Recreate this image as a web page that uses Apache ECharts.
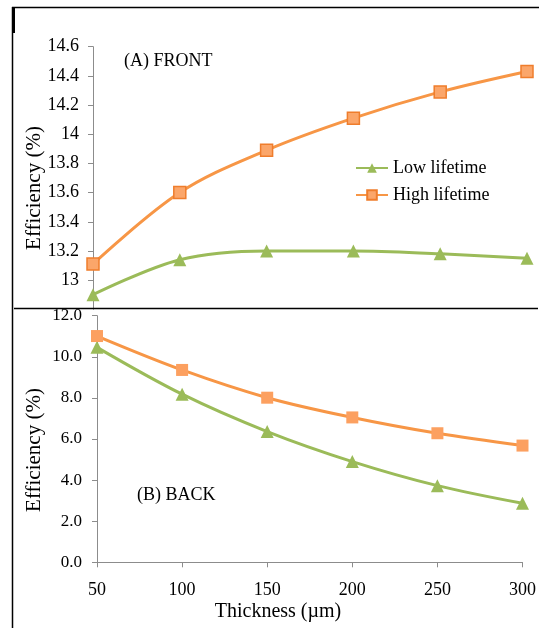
<!DOCTYPE html>
<html>
<head>
<meta charset="utf-8">
<script src="https://cdn.jsdelivr.net/npm/echarts@6/dist/echarts.min.js"></script>
<style>
  html, body { margin: 0; padding: 0; background: #fff; }
  #chart { width: 539px; height: 628px; }
</style>
</head>
<body>
<div id="chart"></div>
<script>
// thickness in um
const thickness = [50, 100, 150, 200, 250, 300]

// (A) front illumination
const frontLow = [12.90, 13.14, 13.20, 13.20, 13.18, 13.15]
const frontHigh = [13.11, 13.60, 13.89, 14.11, 14.29, 14.43]

// (B) back illumination
const backLow = [10.46, 8.18, 6.36, 4.90, 3.73, 2.87]
const backHigh = [11.01, 9.36, 8.01, 7.05, 6.28, 5.68]

const green = '#9bbb59'
const orange = '#f79646'
const axisGray = '#8c8c8c'
const font = 'Liberation Serif'

const pair = (ys) => thickness.map((x, i) => [x, ys[i]])

const chart = echarts.init(document.getElementById('chart'))

const xAxisBase = {
  type: 'value',
  min: 50,
  max: 300,
  interval: 50,
  axisLine: { lineStyle: { color: axisGray, width: 1 } },
  axisTick: { show: true, inside: false, length: 5, lineStyle: { color: axisGray } },
  splitLine: { show: false }
}

const yAxisBase = {
  type: 'value',
  axisLine: { show: true, lineStyle: { color: axisGray } },
  axisTick: { show: true, length: 5, lineStyle: { color: axisGray } },
  splitLine: { show: false }
}

// rotated axis title, placed by hand since it sits off-centre in the original
const yTitle = (y) => ({
  type: 'text', x: 34, y: y, rotation: Math.PI / 2,
  style: { text: 'Efficiency (%)', font: '21px "Liberation Serif"', fill: '#000', align: 'center', verticalAlign: 'middle' }
})

chart.setOption({
  animation: false,
  textStyle: { fontFamily: font },
  legend: {
    data: ['Low lifetime', 'High lifetime'],
    orient: 'vertical',
    left: 350,
    top: 154,
    itemWidth: 32,
    itemHeight: 12,
    itemGap: 9,
    textStyle: { fontFamily: font, fontSize: 18, color: '#000' }
  },
  grid: [
    { left: 93, right: 12, top: 46.7, bottom: 318.7 },
    { left: 97, right: 14, top: 315.7, bottom: 65.7 }
  ],
  xAxis: [
    Object.assign({}, xAxisBase, {
      gridIndex: 0,
      show: false
    }),
    Object.assign({}, xAxisBase, {
      gridIndex: 1,
      axisLabel: { fontFamily: font, fontSize: 18, color: '#000', margin: 19 }
    })
  ],
  yAxis: [
    Object.assign({}, yAxisBase, {
      gridIndex: 0,
      min: 12.8,
      max: 14.6,
      interval: 0.2,
      axisLabel: {
        fontFamily: font, fontSize: 18, color: '#000', margin: 14,
        showMinLabel: false,
        formatter: v => String(Math.round(v * 10) / 10)
      }
    }),
    Object.assign({}, yAxisBase, {
      gridIndex: 1,
      min: 0,
      max: 12,
      interval: 2,
      axisLabel: {
        fontFamily: font, fontSize: 17, color: '#000', margin: 15,
        formatter: v => v.toFixed(1)
      }
    })
  ],
  series: [
    {
      name: 'Low lifetime',
      type: 'line',
      xAxisIndex: 0, yAxisIndex: 0,
      data: pair(frontLow),
      smooth: 0.35,
      symbol: 'triangle',
      symbolSize: 13,
      lineStyle: { color: green, width: 3 },
      itemStyle: { color: green, borderColor: green, borderWidth: 0 }
    },
    {
      name: 'High lifetime',
      type: 'line',
      xAxisIndex: 0, yAxisIndex: 0,
      data: pair(frontHigh),
      smooth: 0.35,
      symbol: 'rect',
      symbolSize: 12,
      lineStyle: { color: orange, width: 3 },
      itemStyle: { color: '#fba66a', borderColor: '#ef7d2c', borderWidth: 1.5 }
    },
    {
      name: 'Low lifetime',
      type: 'line',
      xAxisIndex: 1, yAxisIndex: 1,
      data: pair(backLow),
      smooth: 0.35,
      symbol: 'triangle',
      symbolSize: 13,
      lineStyle: { color: green, width: 3 },
      itemStyle: { color: green }
    },
    {
      name: 'High lifetime',
      type: 'line',
      xAxisIndex: 1, yAxisIndex: 1,
      data: pair(backHigh),
      smooth: 0.35,
      symbol: 'rect',
      symbolSize: 12,
      lineStyle: { color: orange, width: 3 },
      itemStyle: { color: '#fca060' }
    }
  ],
  graphic: [
    { type: 'text', left: 124, top: 52, style: { text: '(A) FRONT', font: '18px "Liberation Serif"', fill: '#000' } },
    { type: 'text', left: 137, top: 486, style: { text: '(B) BACK', font: '18px "Liberation Serif"', fill: '#000' } },
    { type: 'text', x: 278, y: 612, style: { text: 'Thickness (\u00b5m)', font: '20px "Liberation Serif"', fill: '#000', align: 'center', verticalAlign: 'middle' } },
    yTitle(188),
    yTitle(450),
    // panel frame
    { type: 'line', shape: { x1: 12, y1: 7.5, x2: 539, y2: 7.5 }, style: { stroke: '#000', lineWidth: 1.5 } },
    { type: 'line', shape: { x1: 12.5, y1: 7, x2: 12.5, y2: 628 }, style: { stroke: '#000', lineWidth: 1.5 } },
    { type: 'rect', shape: { x: 12, y: 7, width: 3, height: 26 }, style: { fill: '#000' } },
    { type: 'line', z: 10, shape: { x1: 14, y1: 308.5, x2: 538, y2: 308.5 }, style: { stroke: '#000', lineWidth: 1.5 } }
  ]
})
</script>
</body>
</html>
